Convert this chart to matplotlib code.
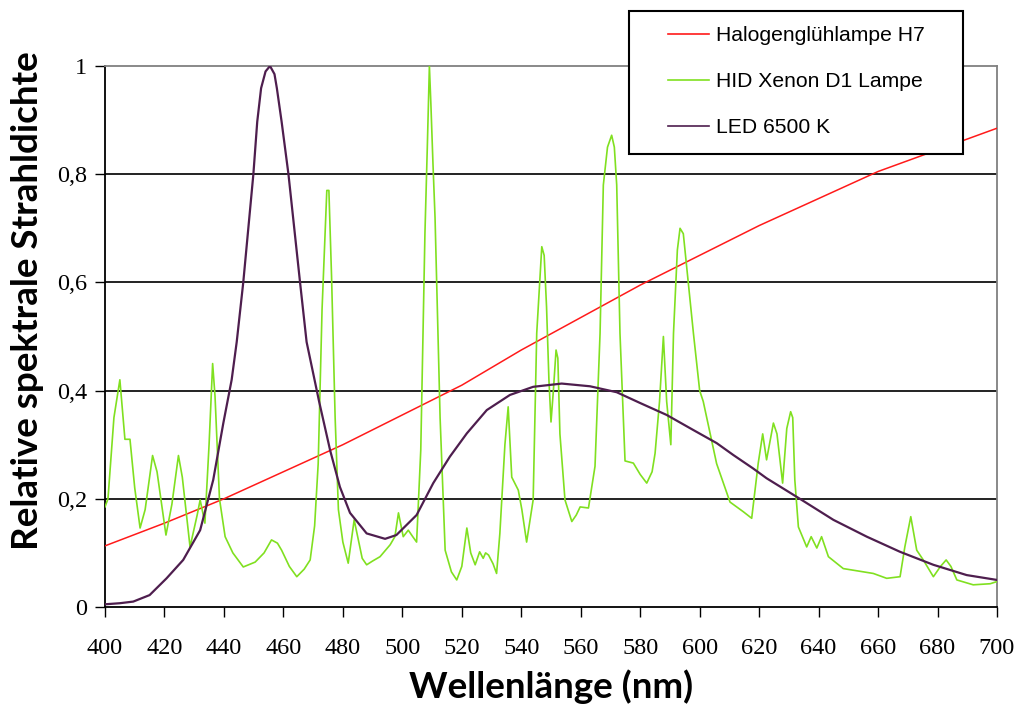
import matplotlib
matplotlib.use("Agg")
import matplotlib.pyplot as plt
from matplotlib.patches import Rectangle
from matplotlib.lines import Line2D

# ---- data ----
halogen_wl = [400, 420, 440, 460, 480, 500, 520, 540, 560, 580, 600, 620, 640, 660, 680, 700]
halogen_val = [0.113, 0.155, 0.200, 0.250, 0.300, 0.355, 0.410, 0.475, 0.535, 0.595, 0.650, 0.705, 0.755, 0.805, 0.845, 0.885]

xenon_wl = [400, 401, 403, 405, 406.7, 408.4, 410, 411.8, 413.5, 416, 417.5, 420.5, 422.5, 424.7, 426,
            428.6, 431, 432, 433.6, 435, 436.2, 437, 438.5, 440.4, 443, 446.5, 450.5, 453.5, 456, 458,
            459.4, 462, 464.5, 467, 469, 470.5, 471.7, 473, 474.6, 475.3, 476.2, 477.4, 478.5, 480, 481.8,
            483.8, 485.2, 486.5, 488, 490, 492.5, 495.9, 497.5, 498.7, 500.3, 502, 503.5, 504.8, 506.2,
            507.6, 508.4, 509.1, 509.6, 510.3, 511, 512.7, 514.4, 516.5, 518.3, 520, 521.7, 523, 524.5,
            526, 527.2, 528, 529, 530.5, 531.7, 532.8, 534.5, 535.6, 536.8, 539, 540.2, 541.8, 544,
            545.2, 546.9, 547.7, 548.5, 549.3, 550, 550.8, 551.7, 552.3, 553, 554.7, 557, 558.5, 559.8,
            562.6, 564.8, 566.5, 567.6, 569, 570.4, 571.3, 572.1, 573.2, 574.9, 577.7, 580, 582.2, 584,
            585, 586.5, 587.8, 588.9, 590.3, 591.2, 592.5, 593.4, 594.5, 595.6, 597.9, 600, 601.2, 605.7,
            610.2, 614.7, 617.5, 619.7, 621.2, 622.5, 624.8, 626, 627.9, 629.3, 630.6, 631.3, 632, 633.2,
            636, 637.5, 639.4, 641, 643.3, 648.3, 658.4, 662.9, 667.4, 669, 671, 673, 675.2, 678.6, 681,
            682.9, 684.5, 686.5, 692, 697.7, 700]
xenon_val = [0.185, 0.20, 0.35, 0.42, 0.31, 0.31, 0.22, 0.146, 0.18, 0.28, 0.25, 0.133, 0.19, 0.28, 0.24,
             0.111, 0.17, 0.198, 0.155, 0.30, 0.45, 0.39, 0.20, 0.13, 0.10, 0.074, 0.083, 0.10, 0.124, 0.118,
             0.105, 0.075, 0.056, 0.07, 0.087, 0.15, 0.265, 0.55, 0.77, 0.77, 0.61, 0.35, 0.18, 0.12, 0.081,
             0.161, 0.124, 0.09, 0.078, 0.085, 0.093, 0.115, 0.13, 0.174, 0.13, 0.142, 0.13, 0.12, 0.29,
             0.69, 0.85, 1.0, 0.93, 0.82, 0.72, 0.35, 0.105, 0.065, 0.05, 0.075, 0.146, 0.10, 0.078,
             0.102, 0.09, 0.10, 0.096, 0.08, 0.062, 0.136, 0.30, 0.37, 0.24, 0.216, 0.18, 0.12, 0.198,
             0.506, 0.666, 0.65, 0.555, 0.42, 0.342, 0.40, 0.475, 0.46, 0.32, 0.198, 0.158, 0.17, 0.185,
             0.183, 0.26, 0.506, 0.78, 0.85, 0.872, 0.85, 0.78, 0.506, 0.27, 0.266, 0.245, 0.229, 0.25,
             0.284, 0.38, 0.50, 0.38, 0.30, 0.506, 0.66, 0.70, 0.69, 0.63, 0.506, 0.40, 0.38, 0.265,
             0.194, 0.176, 0.164, 0.266, 0.32, 0.272, 0.34, 0.32, 0.229, 0.33, 0.361, 0.35, 0.235, 0.148,
             0.111, 0.13, 0.109, 0.13, 0.093, 0.071, 0.062, 0.053, 0.056, 0.111, 0.167, 0.105, 0.087, 0.056, 0.075,
             0.087, 0.075, 0.05, 0.041, 0.043, 0.047]

led_wl = [400, 405, 409.5, 415, 420.7, 426.3, 432, 436.4, 439.8, 442.6, 444.3, 446.5, 449.9, 451.2, 452.5,
          454, 455.5, 457, 457.8, 459.4, 461.7, 465.6, 467.8, 472, 475.7, 479, 482.4, 488, 494.2, 498, 504.8, 510.4,
          516, 521.7, 528.4, 536.2, 544, 553.6, 563.1, 572.1, 580, 588.9, 597.9, 605.7, 611.3, 618, 622.5,
          633.7, 645, 656.2, 667.4, 678.6, 689.8, 700]
led_val = [0.005, 0.007, 0.01, 0.022, 0.053, 0.087, 0.142, 0.235, 0.34, 0.42, 0.49, 0.60, 0.80, 0.897, 0.959,
           0.99, 1.0, 0.985, 0.959, 0.897, 0.80, 0.60, 0.49, 0.38, 0.29, 0.222, 0.174, 0.136, 0.126, 0.133, 0.17, 0.229,
           0.278, 0.321, 0.364, 0.392, 0.407, 0.413, 0.408, 0.397, 0.377, 0.355, 0.327, 0.303, 0.281, 0.256, 0.238,
           0.20, 0.161, 0.13, 0.102, 0.078, 0.059, 0.05]

series_names = ["Halogenglühlampe H7", "HID Xenon D1 Lampe", "LED 6500 K"]
x_ticks = list(range(400, 701, 20))
y_ticks = [0, 0.2, 0.4, 0.6, 0.8, 1.0]
y_tick_labels = ["0", "0,2", "0,4", "0,6", "0,8", "1"]

# ---- figure ----
W, H = 1019, 715
fig = plt.figure(figsize=(W / 100, H / 100), dpi=100)
ax = fig.add_axes([105 / W, 1 - 607 / H, (997 - 105) / W, (607 - 66) / H])

c_red, c_green, c_purple = "#FF1A1A", "#80E020", "#4E1E4E"
ax.plot(halogen_wl, halogen_val, color=c_red, lw=1.1, zorder=3)
ax.plot(xenon_wl, xenon_val, color=c_green, lw=1.2, zorder=3)
ax.plot(led_wl, led_val, color=c_purple, lw=1.6, zorder=4)

ax.set_xlim(400, 700)
ax.set_ylim(0, 1)
for v in y_ticks[1:-1]:
    ax.axhline(v, color="#111111", lw=1.3, zorder=1)

ax.set_xticks(x_ticks)
ax.set_xticklabels([str(t) for t in x_ticks], fontfamily="Liberation Serif", fontsize=17.5)
ax.set_yticks(y_ticks)
ax.set_yticklabels(y_tick_labels, fontfamily="Liberation Serif", fontsize=17.5)
ax.tick_params(axis="x", direction="out", length=7, width=1.0, pad=15, color="black")
ax.tick_params(axis="y", direction="out", length=7, width=1.0, pad=6, color="black")

for s in ["left", "bottom"]:
    ax.spines[s].set_color("black")
    ax.spines[s].set_linewidth(1.3)
for s in ["top", "right"]:
    ax.spines[s].set_color("#808080")
    ax.spines[s].set_linewidth(1.3)

ax.set_xlabel("Wellenlänge (nm)", fontfamily="Lato", fontweight="bold", fontsize=26.5)
ax.set_ylabel("Relative spektrale Strahldichte", fontfamily="Lato", fontweight="bold", fontsize=26.5)
ax.xaxis.set_label_coords(0.5, -0.115)
ax.yaxis.set_label_coords(-0.068, 0.566)

# ---- legend ----
fig.patches.append(Rectangle((629 / W, 1 - 154 / H), (963 - 629) / W, (154 - 11) / H,
                             transform=fig.transFigure, facecolor="white", edgecolor="black",
                             lw=1.5, zorder=10))
handles = [Line2D([], [], color=c, lw=1.2) for c in (c_red, c_green, c_purple)]
leg = fig.legend(handles, series_names, loc="upper left", bbox_to_anchor=(668 / W, 1 - 26 / H),
                 frameon=False, borderpad=0, borderaxespad=0, handlelength=1.95, handletextpad=0.3,
                 labelspacing=1.29, prop={"family": "Liberation Sans", "size": 15.2})
leg.set_zorder(11)

fig.savefig("out.png", dpi=100)
